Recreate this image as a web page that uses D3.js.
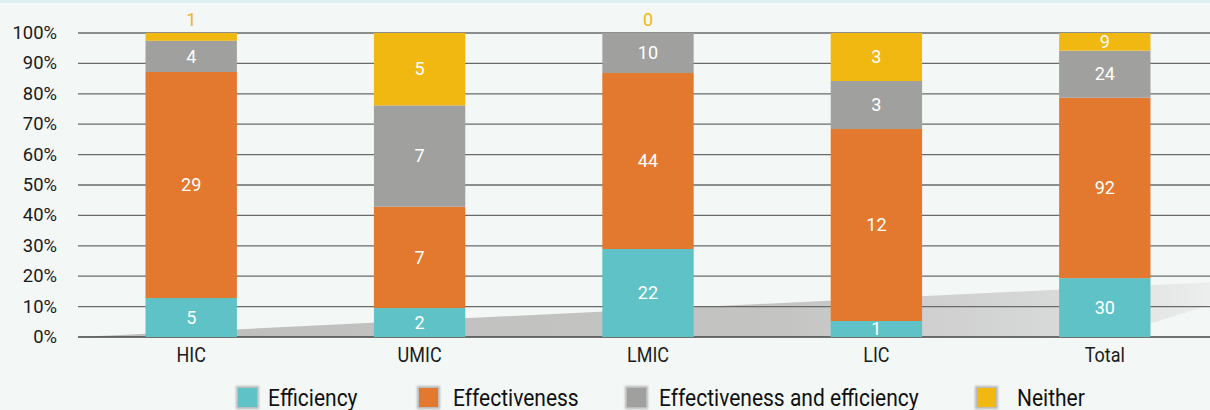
<!DOCTYPE html>
<html>
<head>
<meta charset="utf-8">
<script src="https://cdn.jsdelivr.net/npm/d3@7"></script>
<style>
  html, body { margin: 0; padding: 0; background: #f3f7f6; }
  svg { display: block; }
  text { font-family: "Roboto", "Noto Sans", sans-serif; }
</style>
</head>
<body>
<svg id="chart" width="1210" height="410"></svg>
<script>
// Income groups and counts per assessment focus
const categories = ["HIC", "UMIC", "LMIC", "LIC", "Total"];
const seriesNames = ["Efficiency", "Effectiveness", "Effectiveness and efficiency", "Neither"];
const efficiency = [5, 2, 22, 1, 30];
const effectiveness = [29, 7, 44, 12, 92];
const effAndEff = [4, 7, 10, 3, 24];
const neither = [1, 5, 0, 3, 9];
const yTicks = [0, 0.1, 0.2, 0.3, 0.4, 0.5, 0.6, 0.7, 0.8, 0.9, 1.0];

const colors = ["#5fc2c6", "#e2792f", "#a0a19f", "#f1b812"];
const legendX = [238, 419, 627, 977];
const legendTextX = [268, 453, 659, 1017];

const W = 1210, H = 410;
const svg = d3.select("#chart");

const seriesValues = [efficiency, effectiveness, effAndEff, neither];
const rows = categories.map((c, i) => {
  const r = { cat: c };
  seriesNames.forEach((s, k) => r[s] = seriesValues[k][i]);
  r.total = d3.sum(seriesValues, v => v[i]);
  return r;
});

const x = d3.scaleBand().domain(categories).range([77, 1219]).paddingInner(0.6).paddingOuter(0.3);
const y = d3.scaleLinear().domain([0, 1]).range([337, 33]);

// top accent strip
svg.append("rect").attr("x", 0).attr("y", 0).attr("width", W).attr("height", 3).attr("fill", "#dcf0f2");

// decorative rising ramp behind the bars
const defs = svg.append("defs");
const grad = defs.append("linearGradient").attr("id", "ramp").attr("x1", 0).attr("x2", 1).attr("y1", 0).attr("y2", 0);
[[0, "#bebebd"], [0.62, "#c4c4c3"], [0.85, "#d6d8d7"], [1, "#eceeed"]].forEach(([o, c]) =>
  grad.append("stop").attr("offset", o).attr("stop-color", c));
const blur = defs.append("filter").attr("id", "soft").attr("x", "-30%").attr("y", "-30%").attr("width", "160%").attr("height", "160%");
blur.append("feGaussianBlur").attr("stdDeviation", 1.2);

svg.append("path")
  .attr("d", d3.line()([[78, y(0)], [W, y(0.18)], [W, y(0.105)], [1107, y(0)]]) + "Z")
  .attr("fill", "url(#ramp)");

// gridlines
svg.append("g").selectAll("line").data(yTicks).join("line")
  .attr("x1", 78).attr("x2", W)
  .attr("y1", d => y(d)).attr("y2", d => y(d))
  .attr("stroke", d => d === 0 ? "#454545" : "#6a6a6a")
  .attr("stroke-width", 1.3);

// y axis labels
svg.append("g").selectAll("text").data(yTicks).join("text")
  .attr("transform", d => `translate(57,${y(d)}) scale(0.97,1)`)
  .attr("text-anchor", "end").attr("dominant-baseline", "central")
  .attr("font-size", 19).attr("fill", "#1a1a1a")
  .text(d => Math.round(d * 100) + "%");

// stacked percent bars
const stack = d3.stack().keys(seriesNames).value((d, k) => d[k] / d.total);
const layers = stack(rows);

const g = svg.append("g");
layers.forEach((layer, k) => {
  g.selectAll(null).data(layer).join("rect")
    .attr("x", d => x(d.data.cat))
    .attr("width", x.bandwidth())
    .attr("y", d => y(d[1]))
    .attr("height", d => y(d[0]) - y(d[1]))
    .attr("fill", colors[k]);
});

// value labels
layers.forEach((layer, k) => {
  g.selectAll(null).data(layer).join("text")
    .each(function (d) {
      const v = d.data[seriesNames[k]];
      const frac = d[1] - d[0];
      const outside = frac < 0.04;
      const cy = outside ? y(d[1]) - 13 : (y(d[0]) + y(d[1])) / 2;
      d3.select(this)
        .attr("transform", `translate(${x(d.data.cat) + x.bandwidth() / 2},${cy}) scale(0.95,1)`)
        .attr("fill", outside ? colors[k] : "#ffffff")
        .text(v);
    })
    .attr("text-anchor", "middle").attr("dominant-baseline", "central")
    .attr("font-size", 19);
});

// category labels
svg.append("g").selectAll("text").data(categories).join("text")
  .attr("transform", d => `translate(${x(d) + x.bandwidth() / 2},355) scale(0.9,1)`)
  .attr("text-anchor", "middle").attr("dominant-baseline", "central")
  .attr("font-size", 20).attr("fill", "#1a1a1a")
  .text(d => d);

// legend
const lg = svg.append("g");
seriesNames.forEach((s, k) => {
  lg.append("rect").attr("x", legendX[k] - 2).attr("y", 386).attr("width", 23).attr("height", 23)
    .attr("fill", "#b8b8b8").attr("filter", "url(#soft)");
  lg.append("rect").attr("x", legendX[k]).attr("y", 388).attr("width", 19).attr("height", 19)
    .attr("fill", colors[k]);
  lg.append("text")
    .attr("transform", `translate(${legendTextX[k]},406) scale(0.875,1)`)
    .attr("font-size", 24).attr("fill", "#111")
    .text(s);
});
</script>
</body>
</html>
